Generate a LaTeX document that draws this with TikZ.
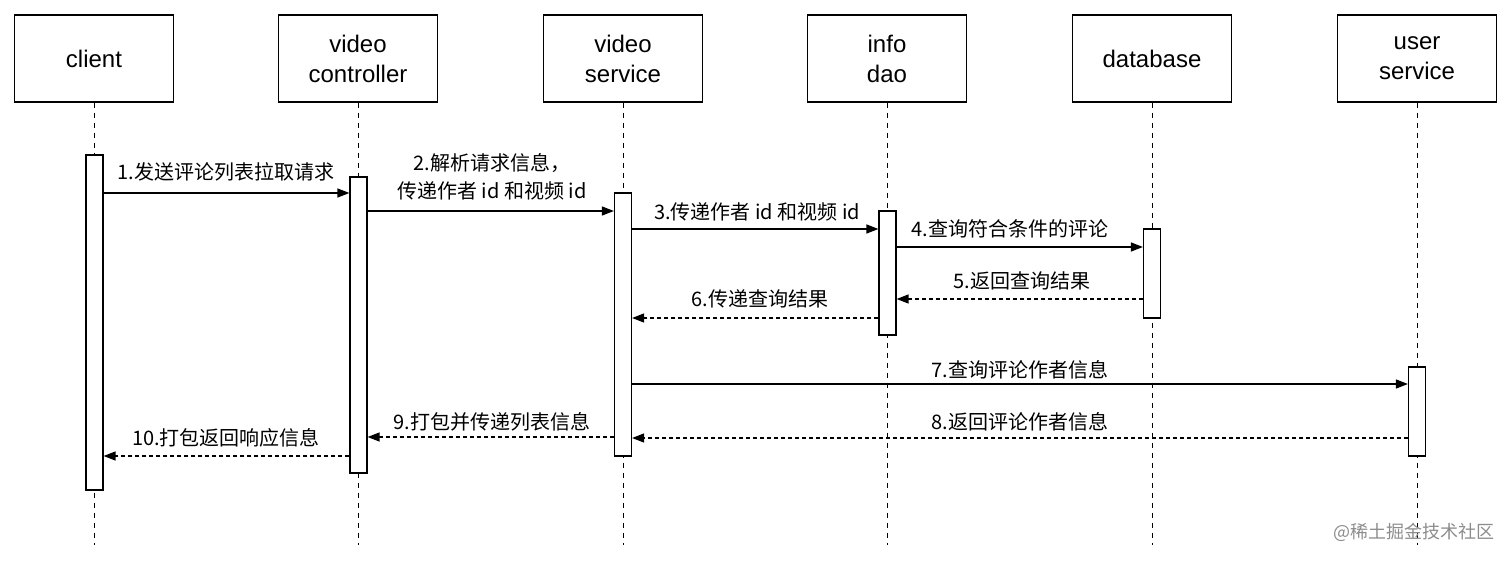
\documentclass[tikz,border=0pt]{standalone}
\usepackage{fontspec}
\setmainfont{Liberation Sans}
\newfontfamily\cjk{Noto Sans CJK SC}
\usetikzlibrary{arrows.meta}
\begin{document}
\begin{tikzpicture}[x=1pt,y=-1pt,
  hdr/.style={draw,line width=1.3pt,minimum width=159pt,minimum height=87pt,align=center,font=\fontsize{24}{30}\selectfont,inner sep=0},
  life/.style={dash pattern=on 5pt off 5pt,line width=1pt},
  bar/.style={draw,fill=white,line width=1.2pt,minimum width=17pt,inner sep=0},
  msg/.style={-{Triangle[length=12pt,width=9pt]},line width=1.3pt},
  ret/.style={msg,dash pattern=on 4pt off 3pt},
  lbl/.style={font=\cjk\fontsize{20}{28}\selectfont,fill=white,inner sep=1pt,align=center}]
\useasboundingbox (0,0) rectangle (1512,561);
\foreach \n/\x/\t in {c/94/client,vc/358/video\\controller,vs/623/video\\service,id/887/info\\dao,db/1152/database,us/1417/user\\service}{
  \node[hdr] (h\n) at (\x,58.5) {\t};
  \coordinate (e\n) at (\x,545);
  \draw[life] (h\n.south) -- (e\n);
}
\node[bar,minimum height=335pt] (bc) at (94.5,322.5) {};
\node[bar,minimum height=296pt] (bvc) at (358.5,325) {};
\node[bar,minimum height=263pt] (bvs) at (623,324.5) {};
\node[bar,minimum height=124pt] (bid) at (887.5,273) {};
\node[bar,minimum height=89pt] (bdb) at (1152,273.5) {};
\node[bar,minimum height=89pt] (bus) at (1417,411.5) {};
\draw[msg] (bc.east|-0,193) -- (bvc.west|-0,193);
\node[lbl] at (226,172) {1.发送评论列表拉取请求};
\draw[msg] (bvc.east|-0,211) -- (bvs.west|-0,211);
\node[lbl] at (492,177) {2.解析请求信息，\\传递作者 id 和视频 id};
\draw[msg] (bvs.east|-0,229) -- (bid.west|-0,229);
\node[lbl] at (757,212) {3.传递作者 id 和视频 id};
\draw[msg] (bid.east|-0,247) -- (bdb.west|-0,247);
\node[lbl] at (1010,229) {4.查询符合条件的评论};
\draw[ret] (bdb.west|-0,299) -- (bid.east|-0,299);
\node[lbl] at (1022,281) {5.返回查询结果};
\draw[ret] (bid.west|-0,318) -- (bvs.east|-0,318);
\node[lbl] at (760,299) {6.传递查询结果};
\draw[msg] (bvs.east|-0,384) -- (bus.west|-0,384);
\node[lbl] at (1020,370) {7.查询评论作者信息};
\draw[ret] (bus.west|-0,438) -- (bvs.east|-0,438);
\node[lbl] at (1020,422) {8.返回评论作者信息};
\draw[ret] (bvs.west|-0,437) -- (bvc.east|-0,437);
\node[lbl] at (492,422) {9.打包并传递列表信息};
\draw[ret] (bvc.west|-0,456) -- (bc.east|-0,456);
\node[lbl] at (226,438) {10.打包返回响应信息};
\node[font=\cjk\fontsize{18}{20}\selectfont,text=black!45] at (1414,532) {@稀土掘金技术社区};
\end{tikzpicture}
\end{document}
